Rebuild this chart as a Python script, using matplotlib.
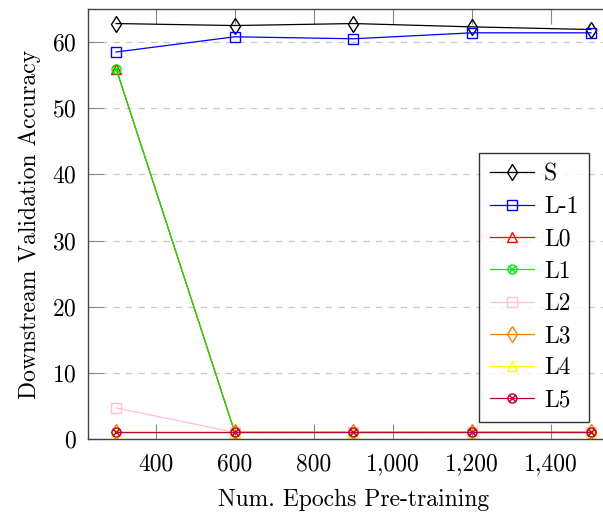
import matplotlib
matplotlib.use("Agg")
import matplotlib.pyplot as plt
from matplotlib.path import Path
import numpy as np

plt.rcParams['font.family'] = ['cmr10', 'DejaVu Serif']
plt.rcParams['axes.formatter.use_mathtext'] = True

epochs = [300, 600, 900, 1200, 1500]
series_names = ["S", "L-1", "L0", "L1", "L2", "L3", "L4", "L5"]
S = [62.8, 62.5, 62.8, 62.3, 61.9]
L_m1 = [58.5, 60.8, 60.5, 61.4, 61.4]
L0 = [56.0, 1.0, 1.0, 1.0, 1.0]
L1 = [56.0, 1.0, 1.0, 1.0, 1.0]
L2 = [4.7, 1.0, 1.0, 1.0, 1.0]
L3 = [1.0, 1.0, 1.0, 1.0, 1.0]
L4 = [1.0, 1.0, 1.0, 1.0, 1.0]
L5 = [1.0, 1.0, 1.0, 1.0, 1.0]
x_ticks = [400, 600, 800, 1000, 1200, 1400]
x_ticklabels = ["400", "600", "800", "1,000", "1,200", "1,400"]
y_ticks = [0, 10, 20, 30, 40, 50, 60]

# otimes marker: circle with an x
s = 0.7071
otimes = Path.make_compound_path(
    Path.unit_circle(),
    Path([(-s, -s), (s, s)]),
    Path([(-s, s), (s, -s)]),
)

styles = [
    dict(color="black", marker="d", ms=8),
    dict(color="#0000ff", marker="s", ms=7.5),
    dict(color="#ff0000", marker="^", ms=6.5),
    dict(color="#00ee00", marker=otimes, ms=6.5),
    dict(color="#ffc0cb", marker="s", ms=7.5),
    dict(color="#ff8000", marker="d", ms=8),
    dict(color="#ffff00", marker="^", ms=6.5),
    dict(color="#bf0040", marker=otimes, ms=6.5),
]
data = [S, L_m1, L0, L1, L2, L3, L4, L5]

fig = plt.figure(figsize=(6.03, 5.12), dpi=100)
ax = fig.add_axes([88 / 603, (512 - 439) / 512, (619 - 88) / 603, (439 - 9) / 512])

for name, vals, st in zip(series_names, data, styles):
    ax.plot(epochs, vals, color=st["color"], marker=st["marker"], ms=st["ms"],
            markerfacecolor="none", markeredgecolor=st["color"], mew=1.0,
            lw=0.9, label=name)

ax.set_xlim(229, 1571)
ax.set_ylim(0, 65)
ax.set_xticks(x_ticks)
ax.set_xticklabels(x_ticklabels)
ax.set_yticks(y_ticks)
ax.tick_params(axis="both", direction="in", length=11, width=0.8, color="#888888",
               labelsize=17, top=True, right=True)
ax.tick_params(axis="x", pad=10)
ax.tick_params(axis="y", pad=8)
ax.yaxis.grid(True, linestyle=(0, (5, 5)), color="#c8c8c8", lw=0.9)
ax.set_axisbelow(True)
for sp in ax.spines.values():
    sp.set_color("#444444")
    sp.set_linewidth(1.0)

ax.set_xlabel("Num. Epochs Pre-training", fontsize=17, labelpad=10)
ax.set_ylabel("Downstream Validation Accuracy", fontsize=17, labelpad=8)

leg = ax.legend(loc="upper left", bbox_to_anchor=((479 - 88) / 531, (439 - 153) / 430),
                fontsize=17, frameon=True, fancybox=False, edgecolor="black",
                handlelength=1.9, handletextpad=0.4, labelspacing=0.43,
                borderpad=0.45, borderaxespad=0)
leg.get_frame().set_linewidth(1.0)

fig.savefig("out.png", dpi=100)
